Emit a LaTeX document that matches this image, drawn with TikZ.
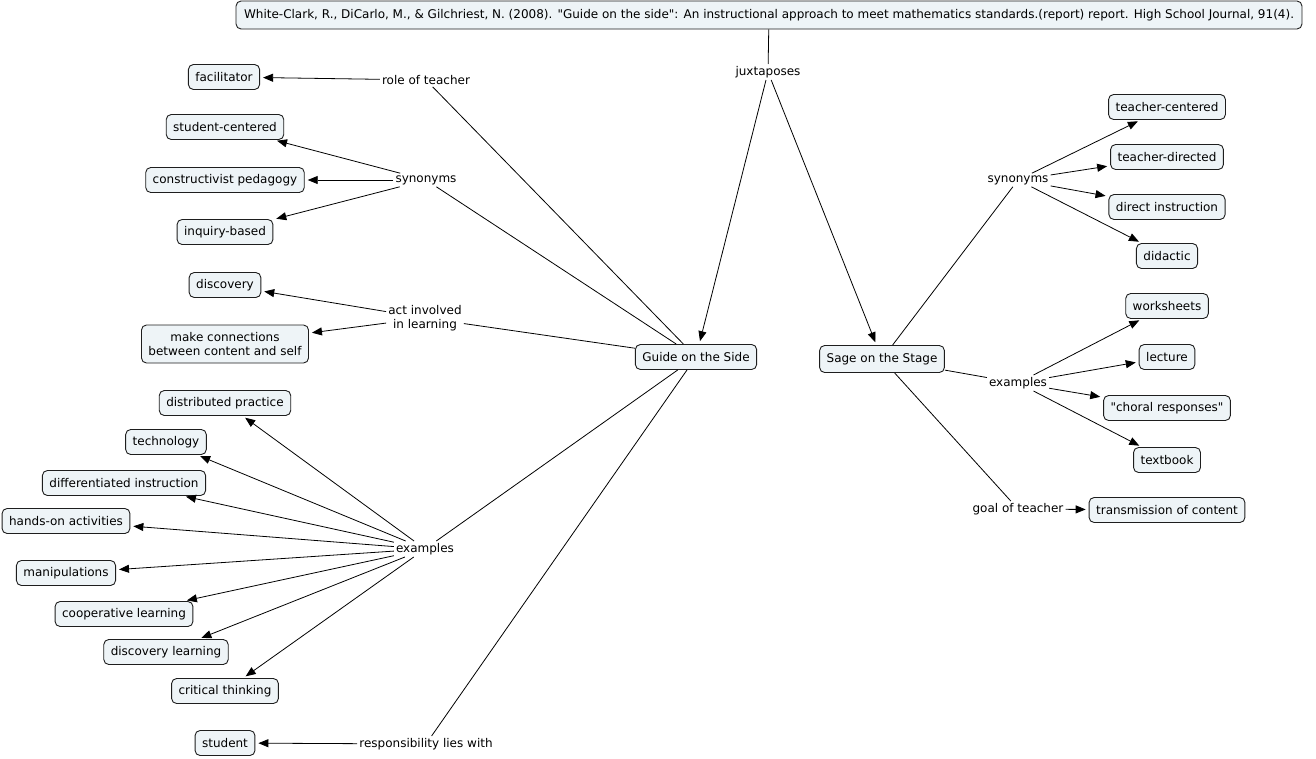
\documentclass[tikz,border=0pt]{standalone}
\usepackage{fontspec}
\setmainfont{DejaVu Sans}
\newfontfamily\qf{DejaVu Sans}
\usetikzlibrary{arrows.meta}
\definecolor{boxfill}{RGB}{238,244,247}
\definecolor{boxline}{RGB}{30,30,30}
\newcommand{\dq}{{\qf\char34}}
\tikzset{
  concept/.style={draw=boxline, fill=boxfill, rounded corners=5pt, line width=0.9pt,
    font=\fontsize{12}{14.5}\selectfont, inner xsep=7pt, inner ysep=3pt, minimum height=25pt, align=center},
  lab/.style={font=\fontsize{12}{14.5}\selectfont, inner sep=2pt, fill=white, align=center},
  ln/.style={draw=black, line width=0.8pt},
  arr/.style={draw=black, line width=0.8pt, -{Triangle[length=10pt,width=8pt]}, shorten >=3pt}
}
\begin{document}
\begin{tikzpicture}[x=1pt,y=-1pt]
\useasboundingbox (0,0) rectangle (1316,758);
% main concepts
\node[concept, minimum height=28pt, inner xsep=8pt] (title) at (769,15) {White-Clark, R., DiCarlo, M., \& Gilchriest, N. (2008). \dq Guide on the side\dq: An instructional approach to meet mathematics standards.(report) report. High School Journal, 91(4).};
\node[lab] (jux) at (768,72) {juxtaposes};
\node[concept] (guide) at (696,357) {Guide on the Side};
\node[concept, minimum height=27pt] (sage) at (882,359) {Sage on the Stage};
% left labels
\node[lab] (role) at (426,80) {role of teacher};
\node[lab] (synL) at (426,180) {synonyms};
\node[lab] (act) at (425,318) {act involved\\in learning};
\node[lab] (exL) at (425,549) {examples};
\node[lab] (resp) at (426,744) {responsibility lies with};
% left concepts
\node[concept] (facil) at (224,77) {facilitator};
\node[concept] (stud) at (225,127) {student-centered};
\node[concept] (constr) at (225,180) {constructivist pedagogy};
\node[concept] (inq) at (225,232) {inquiry-based};
\node[concept] (disc) at (225,285) {discovery};
\node[concept, minimum height=38pt] (conn) at (225,344) {make connections\\between content and self};
\node[concept] (distr) at (225,403) {distributed practice};
\node[concept] (tech) at (166,442) {technology};
\node[concept] (diff) at (124,483) {differentiated instruction};
\node[concept] (hands) at (66,521) {hands-on activities};
\node[concept] (manip) at (66,573) {manipulations};
\node[concept] (coop) at (124,614) {cooperative learning};
\node[concept] (dlearn) at (166,652) {discovery learning};
\node[concept] (crit) at (225,691) {critical thinking};
\node[concept] (student) at (225,743) {student};
% right labels
\node[lab] (synR) at (1018,180) {synonyms};
\node[lab] (exR) at (1018,383) {examples};
\node[lab] (goal) at (1018,509) {goal of teacher};
% right concepts
\node[concept] (tcent) at (1167,107) {teacher-centered};
\node[concept] (tdir) at (1167,157) {teacher-directed};
\node[concept] (dinst) at (1167,207) {direct instruction};
\node[concept] (didac) at (1167,256) {didactic};
\node[concept] (work) at (1167,306) {worksheets};
\node[concept] (lect) at (1167,357) {lecture};
\node[concept] (choral) at (1167,408) {\dq choral responses\dq};
\node[concept] (textb) at (1167,460) {textbook};
\node[concept] (trans) at (1167,510) {transmission of content};
% connectors
\draw[ln] (title) -- (jux);
\draw[arr] (jux) -- (guide);
\draw[arr] (jux) -- (sage);
\draw[ln] (guide) -- (role);
\draw[ln] (guide) -- (synL);
\draw[ln] (guide) -- (act);
\draw[ln] (guide) -- (exL);
\draw[ln] (guide) -- (resp);
\draw[arr] (role) -- (facil);
\draw[arr] (synL) -- (stud);
\draw[arr] (synL) -- (constr);
\draw[arr] (synL) -- (inq);
\draw[arr] (act) -- (disc);
\draw[arr] (act) -- (conn);
\draw[arr] (exL) -- (distr);
\draw[arr] (exL) -- (tech);
\draw[arr] (exL) -- (diff);
\draw[arr] (exL) -- (hands);
\draw[arr] (exL) -- (manip);
\draw[arr] (exL) -- (coop);
\draw[arr] (exL) -- (dlearn);
\draw[arr] (exL) -- (crit);
\draw[arr] (resp) -- (student);
\draw[ln] (sage) -- (synR);
\draw[ln] (sage) -- (exR);
\draw[ln] (sage) -- (goal);
\draw[arr] (synR) -- (tcent);
\draw[arr] (synR) -- (tdir);
\draw[arr] (synR) -- (dinst);
\draw[arr] (synR) -- (didac);
\draw[arr] (exR) -- (work);
\draw[arr] (exR) -- (lect);
\draw[arr] (exR) -- (choral);
\draw[arr] (exR) -- (textb);
\draw[arr] (goal) -- (trans);
\end{tikzpicture}
\end{document}
